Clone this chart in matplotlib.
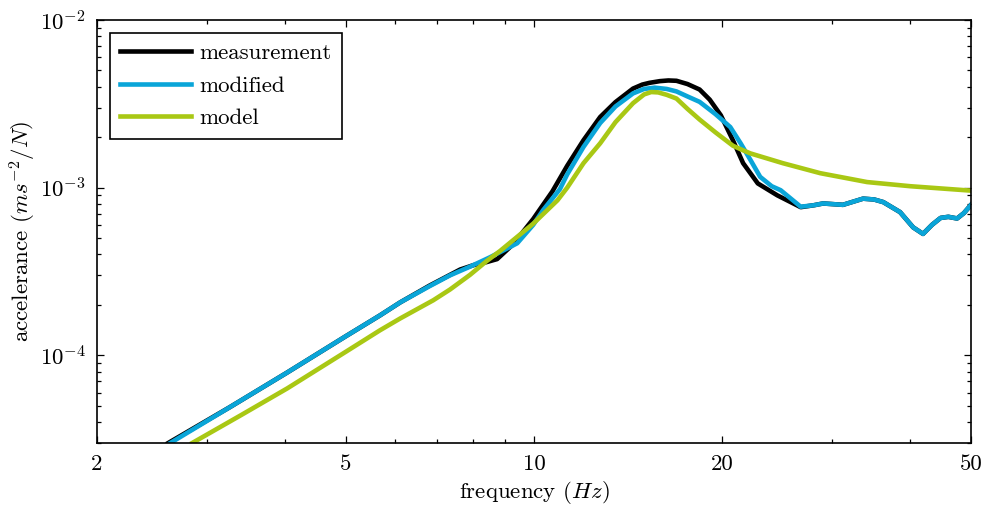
import matplotlib
matplotlib.use('Agg')
import matplotlib.pyplot as plt
from matplotlib.ticker import FixedLocator, FixedFormatter, LogLocator, NullFormatter

# values (frequency in Hz, accelerance in m s^-2 / N)
freq_meas = [2.60, 3.26, 4.03, 5.00, 5.67, 6.11, 6.80, 7.34, 7.62, 8.00, 8.40, 8.73,
             9.26, 9.97, 10.7, 11.3, 12.0, 12.76, 13.5, 14.4, 14.9, 15.3, 15.9, 16.4,
             16.9, 17.6, 18.4, 19.1, 19.9, 20.8, 21.6, 22.8, 24.5, 26.7, 28.0, 29.0,
             31.2, 33.6, 35.0, 36.2, 38.5, 40.4, 41.9, 43.3, 44.7, 46.0, 47.5, 48.7, 50.0]
acc_meas = [3.0e-5, 4.9e-5, 7.9e-5, 1.3e-4, 1.73e-4, 2.07e-4, 2.6e-4, 3.02e-4, 3.25e-4,
            3.45e-4, 3.6e-4, 3.75e-4, 4.6e-4, 6.5e-4, 9.5e-4, 1.35e-3, 1.92e-3, 2.64e-3,
            3.24e-3, 3.9e-3, 4.12e-3, 4.22e-3, 4.32e-3, 4.36e-3, 4.34e-3, 4.15e-3, 3.85e-3,
            3.35e-3, 2.7e-3, 1.92e-3, 1.40e-3, 1.06e-3, 9.0e-4, 7.65e-4, 7.85e-4, 8.05e-4,
            7.9e-4, 8.6e-4, 8.5e-4, 8.2e-4, 7.15e-4, 5.8e-4, 5.3e-4, 6.0e-4, 6.6e-4, 6.7e-4,
            6.55e-4, 7.05e-4, 7.9e-4]

freq_mod = [2.62, 3.26, 4.03, 5.00, 5.67, 6.11, 6.80, 7.34, 7.90, 8.51, 9.40, 9.97,
            10.34, 11.0, 11.3, 12.0, 12.76, 13.5, 14.4, 15.0, 15.6, 16.3, 16.9, 17.6,
            18.4, 19.5, 20.6, 21.4, 22.2, 23.0, 24.0, 24.8, 26.7, 28.0, 29.0, 31.2, 33.6,
            35.0, 36.2, 38.5, 40.4, 41.9, 43.3, 44.7, 46.0, 47.5, 48.7, 50.0]
acc_mod = [3.0e-5, 4.9e-5, 7.9e-5, 1.3e-4, 1.73e-4, 2.07e-4, 2.58e-4, 3.0e-4, 3.38e-4,
           3.85e-4, 4.66e-4, 6.0e-4, 7.34e-4, 9.8e-4, 1.2e-3, 1.75e-3, 2.43e-3, 3.05e-3,
           3.65e-3, 3.88e-3, 3.95e-3, 3.88e-3, 3.75e-3, 3.5e-3, 3.25e-3, 2.75e-3, 2.3e-3,
           1.84e-3, 1.46e-3, 1.16e-3, 1.02e-3, 9.66e-4, 7.7e-4, 7.85e-4, 8.05e-4, 7.9e-4,
           8.6e-4, 8.5e-4, 8.2e-4, 7.15e-4, 5.8e-4, 5.3e-4, 6.0e-4, 6.6e-4, 6.7e-4, 6.55e-4,
           7.05e-4, 7.9e-4]

freq_model = [2.84, 3.40, 4.03, 5.00, 5.67, 6.11, 6.90, 7.34, 7.90, 8.40, 8.83, 9.97,
              10.9, 11.3, 12.0, 12.76, 13.5, 14.4, 15.0, 15.4, 15.8, 16.3, 16.9, 17.6,
              18.4, 19.5, 20.8, 21.6, 22.2, 25.0, 28.7, 34.1, 40.0, 50.0]
acc_model = [3.0e-5, 4.4e-5, 6.35e-5, 1.05e-4, 1.41e-4, 1.66e-4, 2.13e-4, 2.47e-4,
             3.02e-4, 3.65e-4, 4.2e-4, 6.1e-4, 8.4e-4, 1.0e-3, 1.4e-3, 1.84e-3, 2.46e-3,
             3.19e-3, 3.6e-3, 3.72e-3, 3.7e-3, 3.58e-3, 3.4e-3, 2.95e-3, 2.55e-3, 2.14e-3,
             1.78e-3, 1.67e-3, 1.6e-3, 1.40e-3, 1.22e-3, 1.08e-3, 1.02e-3, 9.6e-4]

series_labels = ["measurement", "modified", "model"]
xticks_major = [2, 5, 10, 20, 50]
xticks_minor = [3, 4, 6, 7, 8, 9, 30, 40]

plt.rcParams['font.family'] = 'serif'
plt.rcParams['font.serif'] = ['cmr10']
plt.rcParams['mathtext.fontset'] = 'cm'
plt.rcParams['axes.formatter.use_mathtext'] = True
plt.rcParams['font.size'] = 16.5

fig = plt.figure(figsize=(9.86, 5.12), dpi=100)
ax = fig.add_axes([0.0984, 0.1348, 0.8864, 0.8261])

ax.plot(freq_meas, acc_meas, color='black', lw=3.3, label=series_labels[0])
ax.plot(freq_mod, acc_mod, color='#0aa5d8', lw=3.3, label=series_labels[1])
ax.plot(freq_model, acc_model, color='#a9c814', lw=3.3, label=series_labels[2])

ax.set_xscale('log')
ax.set_yscale('log')
ax.set_xlim(2, 50)
ax.set_ylim(3e-5, 1e-2)

ax.xaxis.set_major_locator(FixedLocator(xticks_major))
ax.xaxis.set_major_formatter(FixedFormatter([str(t) for t in xticks_major]))
ax.xaxis.set_minor_locator(FixedLocator(xticks_minor))
ax.xaxis.set_minor_formatter(NullFormatter())
ax.yaxis.set_minor_locator(LogLocator(base=10, subs=range(2, 10), numticks=20))
ax.yaxis.set_minor_formatter(NullFormatter())

ax.tick_params(which='both', direction='in', top=True, right=True, width=0.9)
ax.tick_params(which='major', length=5, pad=8)
ax.tick_params(which='minor', length=3)
for s in ax.spines.values():
    s.set_linewidth(1.2)

ax.set_xlabel(r"frequency $(Hz)$", labelpad=4)
ax.set_ylabel(r"accelerance $(ms^{-2}/N)$", labelpad=1)

leg = ax.legend(loc='upper left', fancybox=False, framealpha=1, edgecolor='black',
                handlelength=3.1, handletextpad=0.35, labelspacing=0.55,
                borderaxespad=0.55, borderpad=0.45)
leg.get_frame().set_linewidth(1.2)

fig.savefig('out.png', dpi=100)
